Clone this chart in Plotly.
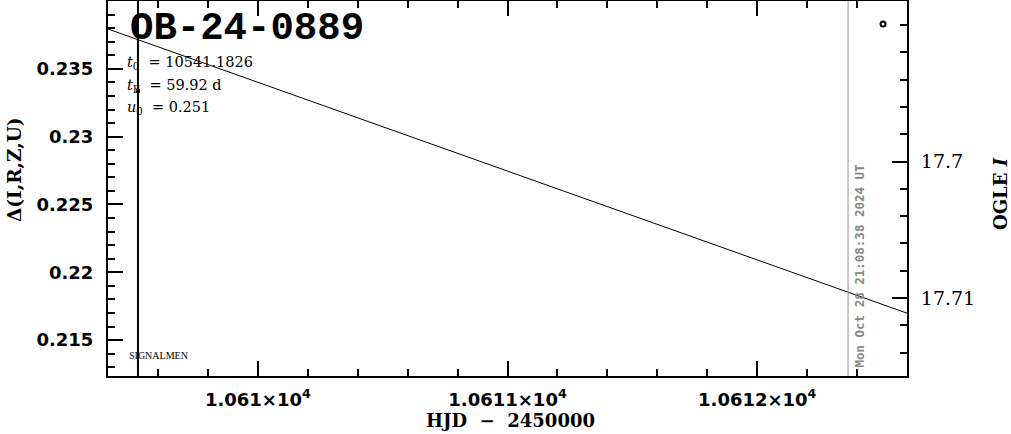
import plotly.graph_objects as go

# ---- data ----
model_hjd = [10609.4, 10610.0, 10611.0, 10612.0, 10612.6]
model_mag = [17.6903, 17.6942, 17.7007, 17.7072, 17.7111]

sig_hjd = [10609.52]
sig_delta = [0.23338]
sig_err = [0.05]

ogle_hjd = [10612.504]
ogle_delta = [0.23831]

now_hjd = 10612.364
now_text = "Mon Oct 28 21:08:38 2024 UT"

x_tickvals = [10610, 10611, 10612]
x_ticktext = ["1.061×10<sup>4</sup>", "1.0611×10<sup>4</sup>", "1.0612×10<sup>4</sup>"]
mag_tickvals = [17.7, 17.71]
mag_ticktext = ["17.7", "17.71"]

x_range = [10609.4, 10612.6]
y_range = [0.21235, 0.240]
mag_range = [17.7157, 17.68825]

event_name = "OB-24-0889"
param_lines = ["<i>t</i><sub>0</sub>&nbsp; = 10541.1826",
               "<i>t</i><sub>E</sub>&nbsp; = 59.92 d",
               "<i>u</i><sub>0</sub>&nbsp; = 0.251"]
x_title = "HJD  −  2450000"
y_title = "Δ(I,R,Z,U)"
y2_title = "OGLE <i>I</i>"

W, H = 1011, 434
L, R, T, B = 108, 104, 1, 58
pw, ph = W - L - R, H - T - B


def px(x):
    return (x - L) / pw


def py(y):
    return 1 - (y - T) / ph


fig = go.Figure()

fig.add_trace(go.Scatter(x=model_hjd, y=model_mag, yaxis="y2", mode="lines",
                         line=dict(color="black", width=1), showlegend=False))
fig.add_trace(go.Scatter(x=sig_hjd, y=sig_delta, mode="markers",
                         marker=dict(symbol="square", size=4, color="black"),
                         error_y=dict(type="data", array=sig_err, color="black", thickness=2, width=0),
                         showlegend=False))
fig.add_trace(go.Scatter(x=ogle_hjd, y=ogle_delta, mode="markers",
                         marker=dict(symbol="circle-open", size=5, color="black", line=dict(width=2)),
                         showlegend=False))

fig.add_shape(type="line", x0=now_hjd, x1=now_hjd, y0=0, y1=1, xref="x", yref="paper",
              line=dict(color="#999999", width=1))
fig.add_annotation(x=now_hjd, y=py(266), xref="x", yref="paper", text=now_text, textangle=-90,
                   showarrow=False, xanchor="left", yanchor="middle", xshift=1,
                   font=dict(family="DejaVu Sans Mono", size=12.5, color="#888888", weight="bold"))

fig.add_annotation(x=px(128), y=py(29), xref="paper", yref="paper", text=event_name,
                   showarrow=False, xanchor="left", yanchor="middle",
                   font=dict(family="Liberation Mono", size=39, color="black", weight="bold"))
for i, t in enumerate(param_lines):
    fig.add_annotation(x=px(125), y=py(63 + 22.5 * i), xref="paper", yref="paper", text=t,
                       showarrow=False, xanchor="left", yanchor="middle",
                       font=dict(family="DejaVu Serif", size=14.5, color="black"))
fig.add_annotation(x=px(127), y=py(355), xref="paper", yref="paper", text="SIGNALMEN",
                   showarrow=False, xanchor="left", yanchor="middle",
                   font=dict(family="Liberation Serif", size=10, color="black"))

# axis titles
fig.add_annotation(x=px(510), y=py(420), xref="paper", yref="paper", text=x_title,
                   showarrow=False, xanchor="center", yanchor="middle",
                   font=dict(family="DejaVu Serif", size=18, color="black", weight="bold"))
fig.add_annotation(x=px(14), y=py(170), xref="paper", yref="paper", text=y_title, textangle=-90,
                   showarrow=False, xanchor="center", yanchor="middle",
                   font=dict(family="DejaVu Serif", size=18.5, color="black", weight="bold"))
fig.add_annotation(x=px(1000), y=py(194), xref="paper", yref="paper", text=y2_title, textangle=-90,
                   showarrow=False, xanchor="center", yanchor="middle",
                   font=dict(family="DejaVu Serif", size=18, color="black", weight="bold"))

axis_common = dict(showline=True, linecolor="black", linewidth=2, ticks="inside",
                   tickcolor="black", tickwidth=1.5, showgrid=False, zeroline=False,
                   automargin=False)

fig.update_layout(
    width=W, height=H, margin=dict(l=L, r=R, t=T, b=B),
    plot_bgcolor="white", paper_bgcolor="white", showlegend=False,
    xaxis=dict(range=x_range, tickvals=x_tickvals, ticktext=x_ticktext, ticklen=15,
               mirror="ticks",
               minor=dict(dtick=0.2, tick0=10610, ticklen=7, ticks="inside", tickcolor="black", tickwidth=1.5),
               tickfont=dict(family="DejaVu Sans", size=18, color="black", weight="bold"),
               ticklabelstandoff=6,
               **axis_common),
    yaxis=dict(range=y_range, dtick=0.005, tick0=0.215, ticklen=15, mirror=True,
               minor=dict(dtick=0.001, ticklen=7, ticks="inside", tickcolor="black", tickwidth=1.5),
               tickfont=dict(family="DejaVu Sans", size=18, color="black", weight="bold"),
               ticklabelstandoff=9,
               **axis_common),
    yaxis2=dict(range=mag_range, overlaying="y", side="right", tickvals=mag_tickvals,
                ticktext=mag_ticktext, ticklen=15, anchor="x",
                minor=dict(dtick=0.002, tick0=17.7, ticklen=7, ticks="inside", tickcolor="black", tickwidth=1.5),
                tickfont=dict(family="DejaVu Serif", size=19, color="black"),
                ticklabelstandoff=8,
                **axis_common),
)

fig.write_html("out.html", config={"displayModeBar": False},
               post_script="document.body.style.margin='0';")
